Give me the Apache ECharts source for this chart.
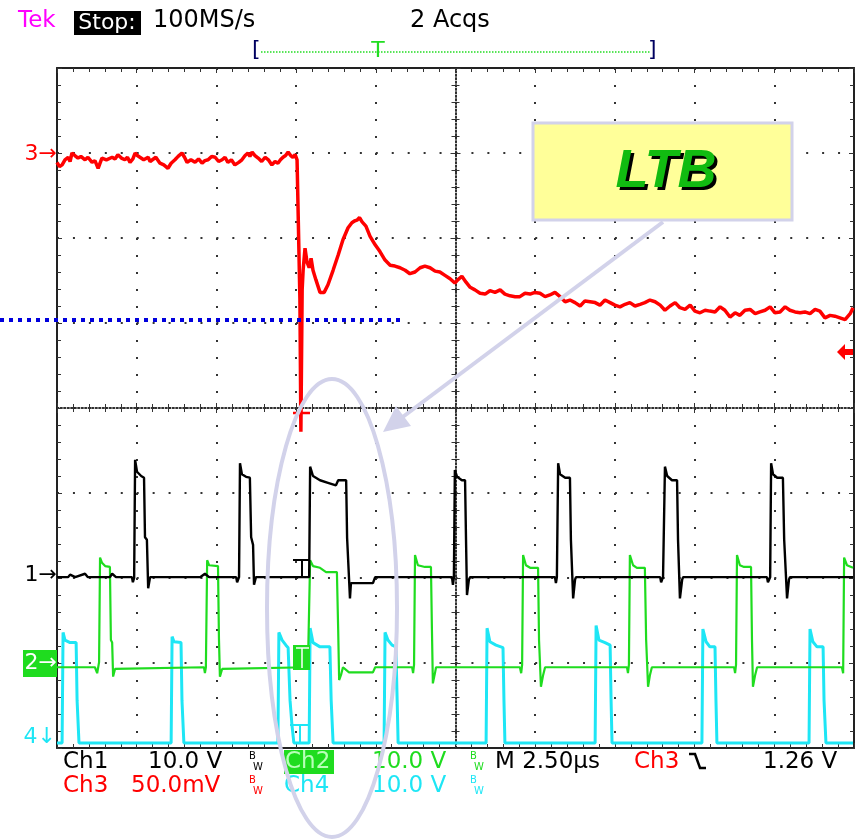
<!DOCTYPE html>
<html><head><meta charset="utf-8">
<script src="https://cdn.jsdelivr.net/npm/echarts@6/dist/echarts.min.js"></script>
<style>html,body{margin:0;padding:0;background:#fff}#c{width:862px;height:840px}</style>
</head><body><div id="c"></div>
<script>
// time in microseconds (2.50 us/div), vertical position in screen divisions (0 = centre)
const ch3Trace = [[0,2.89],[0.08,2.84],[0.16,2.86],[0.25,2.92],[0.35,2.95],[0.41,2.90],[0.47,3.0],[0.56,2.97],[0.66,2.94],[0.75,2.96],[0.88,2.92],[0.97,2.95],[1.10,2.89],[1.19,2.91],[1.29,2.82],[1.35,2.88],[1.41,2.94],[1.55,2.92],[1.73,2.95],[1.82,2.93],[1.91,2.98],[2.02,2.94],[2.13,2.92],[2.21,2.95],[2.29,2.89],[2.38,2.93],[2.45,3.0],[2.52,2.97],[2.60,2.95],[2.72,2.92],[2.86,2.95],[2.92,2.90],[2.98,2.92],[3.10,2.95],[3.23,2.88],[3.35,2.86],[3.48,2.82],[3.58,2.88],[3.70,2.92],[3.80,2.96],[3.92,3.0],[4.00,2.95],[4.08,2.89],[4.20,2.92],[4.33,2.89],[4.44,2.93],[4.55,2.88],[4.64,2.91],[4.74,2.92],[4.85,2.96],[4.96,2.95],[5.07,2.90],[5.18,2.92],[5.27,2.95],[5.36,2.89],[5.47,2.92],[5.58,2.86],[5.70,2.89],[5.80,2.92],[5.90,2.97],[5.99,3.0],[6.05,2.96],[6.12,3.01],[6.21,2.97],[6.31,2.94],[6.42,2.90],[6.53,2.95],[6.63,2.92],[6.74,2.86],[6.84,2.90],[6.93,2.88],[7.01,2.92],[7.09,2.95],[7.17,2.97],[7.25,3.01],[7.33,2.97],[7.40,2.95],[7.47,2.98],[7.53,2.92],[7.59,2.92],[7.62,1.27],[7.65,-0.28],[7.69,1.39],[7.72,1.62],[7.78,1.88],[7.84,1.72],[7.91,1.65],[7.97,1.76],[8.03,1.62],[8.12,1.51],[8.25,1.36],[8.38,1.36],[8.50,1.45],[8.66,1.62],[8.82,1.80],[8.97,1.98],[9.13,2.12],[9.25,2.18],[9.33,2.20],[9.41,2.21],[9.49,2.24],[9.57,2.19],[9.69,2.14],[9.82,2.02],[9.98,1.92],[10.13,1.84],[10.29,1.74],[10.45,1.68],[10.60,1.67],[10.76,1.65],[10.92,1.62],[11.07,1.58],[11.23,1.60],[11.39,1.65],[11.54,1.67],[11.70,1.65],[11.86,1.61],[12.01,1.60],[12.17,1.56],[12.33,1.52],[12.48,1.47],[12.58,1.51],[12.70,1.55],[12.83,1.48],[12.96,1.42],[13.11,1.39],[13.27,1.35],[13.43,1.34],[13.58,1.38],[13.74,1.36],[13.90,1.39],[14.05,1.34],[14.21,1.32],[14.37,1.31],[14.52,1.31],[14.68,1.35],[14.84,1.34],[14.99,1.36],[15.15,1.35],[15.31,1.31],[15.46,1.33],[15.62,1.36],[15.78,1.31],[15.94,1.25],[16.09,1.27],[16.25,1.24],[16.41,1.20],[16.56,1.26],[16.72,1.25],[16.88,1.24],[17.03,1.21],[17.19,1.27],[17.35,1.24],[17.50,1.21],[17.66,1.19],[17.82,1.22],[17.97,1.24],[18.13,1.20],[18.29,1.22],[18.44,1.24],[18.60,1.27],[18.76,1.25],[18.92,1.21],[19.07,1.15],[19.23,1.20],[19.39,1.24],[19.54,1.18],[19.70,1.16],[19.86,1.21],[20.01,1.14],[20.17,1.12],[20.33,1.15],[20.48,1.14],[20.64,1.13],[20.80,1.19],[20.95,1.15],[21.11,1.07],[21.27,1.12],[21.42,1.09],[21.58,1.15],[21.74,1.16],[21.90,1.11],[22.05,1.13],[22.21,1.15],[22.37,1.19],[22.52,1.12],[22.68,1.13],[22.84,1.19],[22.99,1.15],[23.15,1.13],[23.31,1.12],[23.46,1.13],[23.62,1.11],[23.78,1.16],[23.93,1.14],[24.09,1.06],[24.25,1.09],[24.40,1.08],[24.56,1.06],[24.72,1.04],[24.88,1.11],[24.97,1.18]];

const ch1Trace = [[0,-1.99],[0.35,-1.99],[0.41,-1.96],[0.57,-1.99],[0.88,-1.95],[0.97,-1.99],[1.66,-1.99],[1.73,-1.95],[1.85,-1.99],[2.35,-1.99],[2.38,-2.05],[2.42,-2.0],[2.45,-0.61],[2.51,-0.75],[2.64,-0.80],[2.73,-0.82],[2.76,-1.52],[2.82,-1.55],[2.86,-2.12],[2.92,-1.99],
[4.49,-1.99],[4.64,-1.95],[4.77,-1.99],[5.62,-1.99],[5.65,-2.05],[5.71,-1.99],[5.74,-0.65],[5.80,-0.78],[5.93,-0.81],[6.05,-0.82],[6.09,-1.52],[6.15,-1.61],[6.18,-2.08],[6.24,-1.99],
[7.31,-1.99],[7.62,-1.99],[7.91,-1.99],[7.94,-0.69],[8.03,-0.80],[8.25,-0.85],[8.50,-0.88],[8.75,-0.91],[8.82,-0.85],[9.07,-0.85],[9.10,-1.53],[9.16,-1.55],[9.19,-2.24],[9.22,-2.06],[9.91,-2.06],[9.98,-1.99],
[12.39,-1.99],[12.42,-2.08],[12.45,-1.99],[12.48,-0.73],[12.55,-0.81],[12.70,-0.85],[12.80,-0.85],[12.83,-1.55],[12.86,-2.20],[12.92,-2.02],[12.96,-1.99],
[15.62,-1.99],[15.65,-2.06],[15.68,-1.99],[15.72,-0.65],[15.78,-0.78],[15.94,-0.82],[16.09,-0.82],[16.12,-1.55],[16.19,-2.24],[16.25,-2.02],[16.28,-1.99],
[18.92,-1.99],[18.95,-2.05],[19.01,-1.99],[19.07,-0.69],[19.14,-0.80],[19.29,-0.85],[19.45,-0.85],[19.48,-1.55],[19.54,-2.24],[19.61,-2.02],[19.64,-1.99],
[22.27,-1.99],[22.30,-2.05],[22.37,-1.99],[22.40,-0.65],[22.46,-0.78],[22.59,-0.82],[22.77,-0.82],[22.81,-1.55],[22.90,-2.24],[22.96,-2.02],[22.99,-1.99],[24.97,-1.99]];

const ch2Trace = [[0,-3.05],[1.19,-3.05],[1.26,-3.12],[1.32,-2.99],[1.35,-1.76],[1.41,-1.82],[1.51,-1.86],[1.66,-1.87],[1.69,-2.73],[1.73,-2.76],[1.76,-3.16],[1.82,-3.07],[1.85,-3.05],
[4.61,-3.05],[4.64,-3.12],[4.67,-3.05],[4.71,-1.79],[4.77,-1.85],[5.05,-1.86],[5.08,-2.71],[5.11,-3.16],[5.18,-3.07],[5.21,-3.05],
[7.87,-3.05],[7.94,-1.79],[8.03,-1.86],[8.25,-1.88],[8.44,-1.93],[8.78,-1.93],[8.82,-2.61],[8.85,-3.20],[8.91,-3.14],[8.97,-3.05],[9.16,-3.11],[9.91,-3.11],[9.98,-3.05],
[11.14,-3.05],[11.17,-3.12],[11.20,-3.02],[11.23,-1.73],[11.32,-1.85],[11.54,-1.87],[11.73,-1.87],[11.76,-2.59],[11.79,-3.24],[11.86,-3.11],[11.89,-3.05],
[14.52,-3.05],[14.56,-3.12],[14.59,-3.02],[14.62,-1.73],[14.71,-1.85],[14.84,-1.88],[15.09,-1.88],[15.12,-2.73],[15.18,-3.28],[15.25,-3.14],[15.31,-3.05],
[17.88,-3.05],[17.91,-3.12],[17.94,-3.02],[17.97,-1.73],[18.07,-1.85],[18.19,-1.88],[18.44,-1.88],[18.48,-2.73],[18.54,-3.28],[18.60,-3.14],[18.66,-3.05],
[21.24,-3.05],[21.27,-3.12],[21.30,-3.02],[21.33,-1.73],[21.42,-1.85],[21.55,-1.87],[21.77,-1.87],[21.80,-2.73],[21.83,-3.28],[21.90,-3.14],[21.96,-3.05],
[24.62,-3.05],[24.66,-3.12],[24.69,-1.76],[24.78,-1.85],[24.97,-1.88]];

const ch4Trace = [[0,-3.94],[0.16,-3.94],[0.19,-2.64],[0.25,-2.73],[0.41,-2.76],[0.60,-2.76],[0.63,-3.44],[0.69,-3.94],
[3.58,-3.94],[3.61,-2.69],[3.67,-2.75],[3.89,-2.76],[3.92,-3.44],[3.98,-3.94],
[6.93,-3.94],[6.96,-2.64],[7.06,-2.73],[7.18,-2.79],[7.25,-2.82],[7.31,-3.44],[7.37,-3.73],[7.43,-3.94],
[7.91,-3.94],[7.94,-2.59],[8.03,-2.76],[8.25,-2.81],[8.56,-2.81],[8.60,-3.44],[8.66,-3.94],
[10.26,-3.94],[10.29,-2.64],[10.38,-2.73],[10.51,-2.79],[10.63,-2.81],[10.67,-3.44],[10.70,-3.94],
[13.46,-3.94],[13.49,-2.59],[13.58,-2.75],[13.77,-2.79],[13.99,-2.82],[14.02,-3.44],[14.05,-3.94],
[16.88,-3.94],[16.91,-2.56],[17.00,-2.73],[17.19,-2.76],[17.35,-2.79],[17.38,-3.44],[17.41,-3.94],
[20.23,-3.94],[20.26,-2.60],[20.36,-2.75],[20.48,-2.81],[20.64,-2.81],[20.67,-3.44],[20.70,-3.94],
[23.59,-3.94],[23.62,-2.60],[23.71,-2.75],[23.84,-2.81],[24.03,-2.81],[24.06,-3.44],[24.12,-3.94],[24.97,-3.94]];

const channelGround = {ch3: 2.98, ch1: -1.97, ch2: -3.0, ch4: -3.87}; // divisions
const ch3TriggerLevel = 1.035; // divisions
const timeRange = [0, 25], timePerDiv = 2.5;
const divRange = [-4, 4];

const COL = {ch1:'#000000', ch2:'#1fdc1f', ch3:'#ff0000', ch4:'#1ee6f5', grid:'#333333', note:'#d2d2ea'};
const FONT = '23px "DejaVu Sans"';

const chart = echarts.init(document.getElementById('c'), null, {renderer:'canvas'});
const G = {left:57, top:68, width:797, height:680};

function borderX(pos, split) {
  return {type:'value', gridIndex:0, min:timeRange[0], max:timeRange[1], interval:timePerDiv, position:pos,
    axisLine:{show:true, onZero:false, lineStyle:{color:'#222', width:2}},
    axisTick:{show:true, inside:true, length:5, lineStyle:{color:COL.grid}},
    minorTick:{show:true, splitNumber:5, length:4, lineStyle:{color:COL.grid}},
    axisLabel:{show:false},
    splitLine:{show:split, lineStyle:{color:COL.grid, width:2, type:[2,15]}}};
}
function borderY(pos, split) {
  return {type:'value', gridIndex:0, min:divRange[0], max:divRange[1], interval:1, position:pos,
    axisLine:{show:true, onZero:false, lineStyle:{color:'#222', width:2}},
    axisTick:{show:true, inside:true, length:5, lineStyle:{color:COL.grid}},
    minorTick:{show:true, splitNumber:5, length:4, lineStyle:{color:COL.grid}},
    axisLabel:{show:false},
    splitLine:{show:split, lineStyle:{color:COL.grid, width:2, type:[2,13.94]}}};
}
function centreX(pos) {
  return {type:'value', gridIndex:1, min:-5, max:5, interval:1, position:pos,
    axisLine:{show:true, onZero:true, lineStyle:{color:'#222', width:1.5, type:[1.5,2]}},
    axisTick:{show:true, inside:false, length:5, lineStyle:{color:'#333'}},
    minorTick:{show:true, splitNumber:5, length:4, lineStyle:{color:'#333'}},
    axisLabel:{show:false}, splitLine:{show:false}};
}
function centreY(pos) {
  return {type:'value', gridIndex:1, min:-4, max:4, interval:1, position:pos,
    axisLine:{show:true, onZero:true, lineStyle:{color:'#222', width:1.5, type:[1.5,2]}},
    axisTick:{show:true, inside:false, length:5, lineStyle:{color:'#333'}},
    minorTick:{show:true, splitNumber:5, length:4, lineStyle:{color:'#333'}},
    axisLabel:{show:false}, splitLine:{show:false}};
}
function trace(name, data, color, width, z) {
  return {name, type:'line', xAxisIndex:0, yAxisIndex:0, data, showSymbol:false, symbol:'none',
    lineStyle:{color, width}, clip:true, silent:true, animation:false, z};
}

chart.setOption({
  animation:false,
  backgroundColor:'#ffffff',
  grid:[Object.assign({}, G), Object.assign({}, G)],
  xAxis:[borderX('bottom', true), borderX('top', false), centreX('bottom'), centreX('top')],
  yAxis:[borderY('left', true), borderY('right', false), centreY('left'), centreY('right')],
  series:[
    trace('Ch4', ch4Trace, COL.ch4, 3, 3),
    trace('Ch2', ch2Trace, COL.ch2, 2.2, 4),
    trace('Ch1', ch1Trace, COL.ch1, 2.4, 5),
    trace('Ch3', ch3Trace, COL.ch3, 3.5, 6)
  ]
});

const px = (t, d) => chart.convertToPixel({gridIndex:0}, [t, d]);
const y3 = px(0, channelGround.ch3)[1], y1 = px(0, channelGround.ch1)[1],
      y2 = px(0, channelGround.ch2)[1], y4 = px(0, channelGround.ch4)[1];
const yTrig = px(0, ch3TriggerLevel)[1];
const xTrigEnd = px(10.76, 0)[0];

function txt(x, y, text, fill, opts, z) {
  return {type:'text', x, y, z:z||50, style:Object.assign({text, fill, font:FONT,
    textAlign:'left', textVerticalAlign:'middle', align:'left', verticalAlign:'middle'}, (opts||{}))};
}
function alignC(o){o.style.textAlign='center';o.style.align='center';return o;}
function alignR(o){o.style.textAlign='right';o.style.align='right';return o;}
function ln(x1,y1,x2,y2,stroke,w,dash,z){return {type:'line', z:z||50, shape:{x1,y1,x2,y2}, style:{stroke, lineWidth:w, lineDash:dash||null}};}
function bw(x, y, c){return [txt(x, y-6, 'B', c, {font:'10px "DejaVu Sans"'}), txt(x+4, y+5, 'W', c, {font:'10px "DejaVu Sans"'})];}

const row1 = 762, row2 = 786;
const g = [
  // header
  txt(18, 21, 'Tek', '#ff00ff', {font:'23px "DejaVu Sans"'}),
  {type:'rect', z:49, shape:{x:74, y:11, width:67, height:24}, style:{fill:'#000'}},
  alignC(txt(107, 23, 'Stop:', '#fff', {font:'22px "DejaVu Sans"'})),
  txt(153, 21, '100MS/s', '#000', {font:'24px "DejaVu Sans"'}),
  txt(410, 21, '2 Acqs', '#000', {font:'24px "DejaVu Sans"'}),
  txt(252, 50, '[', '#000060', {font:'22px "DejaVu Sans"'}),
  txt(648, 50, ']', '#000060', {font:'22px "DejaVu Sans"'}),
  ln(261, 52, 650, 52, '#22dd22', 1.5, [1.5,1.5]),
  alignC(txt(378, 51, 'T', '#22dd22', {font:'22px "DejaVu Sans"'})),
  // channel ground markers
  alignR(txt(57, y3, '3→', COL.ch3, {font:'22px "DejaVu Sans"'})),
  alignR(txt(57, y1, '1→', COL.ch1, {font:'22px "DejaVu Sans"'})),
  {type:'rect', z:49, shape:{x:23, y:y2-13, width:34, height:27}, style:{fill:COL.ch2}},
  alignR(txt(57, y2, '2→', '#ffffff', {font:'22px "DejaVu Sans"'})),
  alignR(txt(56, y4, '4↓', COL.ch4, {font:'22px "DejaVu Sans"'})),
  // trigger level arrow (right) and ch3 threshold dotted line
  {type:'polygon', z:50, shape:{points:[[837,352],[845,344],[845,349],[853,349],[853,355],[845,355],[845,360]]}, style:{fill:COL.ch3}},
  ln(0, yTrig, xTrigEnd, yTrig, '#0000dd', 4, [4,5], 60),
  // trigger position "T" markers
  ln(293, 560, 310, 560, '#000', 2), ln(302, 560, 302, 578, '#000', 2),
  {type:'rect', z:49, shape:{x:293, y:645, width:17, height:25}, style:{fill:COL.ch2}},
  ln(296, 648, 309, 648, '#fff', 1.5), ln(302, 648, 302, 668, '#fff', 1.5),
  ln(290, 725, 310, 725, COL.ch4, 2), ln(300, 725, 300, 743, COL.ch4, 2),
  ln(293, 413, 310, 413, COL.ch3, 2.5),
  // readout row 1
  txt(63, row1, 'Ch1', '#000'), txt(148, row1, '10.0 V', '#000'), ...bw(249, row1, '#000'),
  {type:'rect', z:49, shape:{x:284, y:row1-12, width:50, height:24}, style:{fill:COL.ch2}},
  txt(285, row1, 'Ch2', '#b8ffb8'),
  txt(372, row1, '10.0 V', COL.ch2), ...bw(470, row1, COL.ch2),
  txt(495, row1, 'M 2.50µs', '#000'),
  txt(634, row1, 'Ch3', COL.ch3),
  {type:'polyline', z:50, shape:{points:[[689,754],[695,754],[700,768],[706,768]]}, style:{stroke:'#000', lineWidth:2.5, fill:null}},
  txt(763, row1, '1.26 V', '#000'),
  // readout row 2
  txt(63, row2, 'Ch3', COL.ch3), txt(131, row2, '50.0mV', COL.ch3), ...bw(249, row2, COL.ch3),
  txt(284, row2, 'Ch4', COL.ch4), txt(372, row2, '10.0 V', COL.ch4), ...bw(470, row2, COL.ch4),
  // LTB annotation
  {type:'rect', z:80, shape:{x:533, y:123, width:259, height:97}, style:{fill:'#ffff99', stroke:COL.note, lineWidth:3}},
  alignC(txt(669, 175, 'LTB', '#000', {font:'italic bold 54px "Liberation Sans"'}, 81)),
  alignC(txt(666, 172, 'LTB', '#11bb11', {font:'italic bold 54px "Liberation Sans"'}, 82)),
  ln(663, 222, 400, 419, COL.note, 4, null, 80),
  {type:'polygon', z:80, shape:{points:[[383,432],[411,426],[396,406]]}, style:{fill:COL.note}},
  {type:'ellipse', z:80, shape:{cx:332, cy:608, rx:65, ry:229}, style:{fill:'none', stroke:COL.note, lineWidth:4}}
];
chart.setOption({graphic:{elements:g}});
</script></body></html>
